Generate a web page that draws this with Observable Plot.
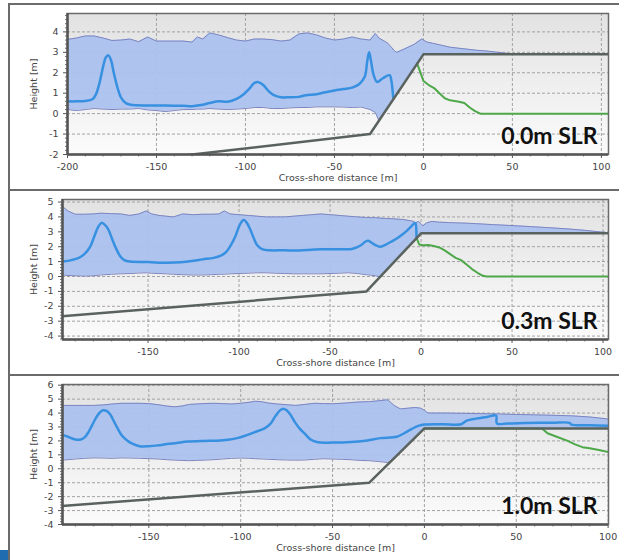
<!DOCTYPE html>
<html><head><meta charset="utf-8">
<script src="https://cdn.jsdelivr.net/npm/d3@7"></script>
<script src="https://cdn.jsdelivr.net/npm/@observablehq/plot@0.6"></script>
<style>
body{margin:0;background:#fff;}
#wrap{position:relative;width:619px;height:560px;overflow:hidden;background:#fff;}
.panel{position:absolute;left:8px;width:611px;border-top:2px solid #6b6b6b;border-left:2px solid #6b6b6b;}
.panel svg{display:block;}
#corner{position:absolute;left:0;top:550px;width:8px;height:10px;background:#1f6db0;}
</style></head>
<body>
<div id="wrap">
  <div class="panel" id="p0" style="top:3px;height:184px"></div>
  <div class="panel" id="p1" style="top:189px;height:183px"></div>
  <div class="panel" id="p2" style="top:374px;height:184px"></div>
  <div id="corner"></div>
</div>
<script>
// ---------- labels & axes ----------
const xLabel = "Cross-shore distance [m]";
const yLabel = "Height [m]";
const slrLabels = ["0.0m SLR", "0.3m SLR", "1.0m SLR"];
const xDomains = [[-200, 104], [-197, 103], [-197, 100.2]];
const yDomains = [[-2, 4.9], [-4.23, 5.17], [-4, 6.05]];
const xTicks = [
  [-200, -150, -100, -50, 0, 50, 100],
  [-150, -100, -50, 0, 50, 100],
  [-150, -100, -50, 0, 50, 100]
];
const yTicks = [
  [-2, -1, 0, 1, 2, 3, 4],
  [-4, -3, -2, -1, 0, 1, 2, 3, 4, 5],
  [-4, -3, -2, -1, 0, 1, 2, 3, 4, 5, 6]
];

// ---------- bed profile (same in all panels) ----------
const bed = [[-200, -2.7], [-30, -1], [0, 2.9], [105, 2.9]];

// ---------- panel 1: 0.0 m SLR ----------
// [x, lower envelope, upper envelope]
const band0 = [
  [-200,0.2,3.63],[-195,0.15,3.7],[-190,0.2,3.8],[-185,0.25,3.8],[-180,0.22,3.7],[-175,0.2,3.58],
  [-170,0.22,3.6],[-165,0.22,3.65],[-160,0.25,3.52],[-155,0.18,3.75],[-150,0.15,3.55],[-145,0.1,3.55],
  [-140,0.15,3.55],[-135,0.2,3.55],[-130,0.2,3.5],[-127,0.22,3.75],[-124,0.22,3.65],[-120,0.25,3.95],
  [-115,0.22,3.85],[-110,0.2,3.72],[-105,0.22,3.6],[-100,0.25,3.55],[-95,0.3,3.65],[-90,0.3,3.65],
  [-85,0.25,3.62],[-80,0.25,3.55],[-75,0.28,3.6],[-70,0.3,3.9],[-65,0.3,3.95],[-60,0.33,3.85],
  [-55,0.33,3.7],[-50,0.33,3.6],[-45,0.32,3.65],[-40,0.3,3.75],[-35,0.32,3.65],[-30,0.2,3.6],
  [-27,0.05,3.92],[-25,-0.35,3.7],[-20,0.3,3.45],[-16,0.82,3.05],[-15,0.95,3.0],[-11,1.47,3.15],
  [-5,2.25,3.4],[-1,2.77,3.65],[0,2.9,3.6],[2,2.9,3.5],[5,2.9,3.45],[10,2.9,3.35],[15,2.9,3.25],
  [20,2.9,3.2],[25,2.9,3.15],[30,2.9,3.1],[35,2.9,3.07],[40,2.9,3.02],[45,2.9,2.97],[50,2.9,2.92],
  [55,2.9,2.9],[104,2.9,2.9]
];
const mean0 = [
  [-200,0.6],[-195,0.6],[-190,0.62],[-186,0.7],[-184,0.95],[-182,1.5],[-180,2.3],[-178.5,2.75],
  [-177,2.85],[-175.5,2.6],[-174,2.0],[-172,1.3],[-170,0.8],[-167,0.5],[-163,0.42],[-155,0.4],
  [-145,0.4],[-135,0.38],[-130,0.36],[-125,0.42],[-120,0.52],[-115,0.6],[-110,0.58],[-105,0.72],
  [-101,0.95],[-98,1.2],[-95,1.5],[-93,1.55],[-90,1.4],[-87,1.1],[-84,0.9],[-80,0.8],[-75,0.8],
  [-70,0.82],[-66,0.9],[-60,0.95],[-55,1.05],[-50,1.13],[-45,1.2],[-40,1.27],[-36,1.45],[-33,1.8],
  [-31.5,2.6],[-30.5,3.0],[-29.5,2.6],[-28,1.9],[-26,1.55],[-23,1.72],[-19,1.88],[-18,1.6],[-17,0.8]
];
const green0 = [
  [-3.5,2.45],[0,1.6],[3,1.4],[6,1.25],[9,1.0],[12,0.75],[15,0.65],[20,0.58],[23,0.52],
  [26,0.3],[29,0.12],[32,0],[104,0]
];

// ---------- panel 2: 0.3 m SLR ----------
const band1 = [
  [-197,0.1,4.7],[-194,0.07,4.4],[-190,0.05,4.18],[-185,0.03,4.18],[-180,0.05,4.2],[-176,0.1,4.25],
  [-170,0.15,4.22],[-165,0.18,4.2],[-160,0.2,4.1],[-155,0.23,4.2],[-151,0.25,4.4],[-148,0.22,4.2],
  [-144,0.2,4.1],[-140,0.18,4.05],[-136,0.15,4.0],[-131,0.12,4.2],[-125,0.1,4.15],[-120,0.1,4.18],
  [-115,0.12,4.18],[-111,0.15,4.2],[-108,0.15,4.4],[-105,0.18,4.2],[-100,0.2,4.15],[-95,0.22,4.1],
  [-90,0.25,4.05],[-85,0.25,4.0],[-80,0.22,4.0],[-75,0.2,4.0],[-70,0.18,4.05],[-65,0.18,4.1],
  [-60,0.18,4.15],[-55,0.18,4.2],[-50,0.2,4.15],[-45,0.22,4.1],[-40,0.25,4.05],[-35,0.2,4.0],
  [-30,0.12,3.96],[-27,0.08,3.95],[-25,0.05,3.95],[-22.5,-0.03,3.92],[-20,0.3,3.9],[-15,0.95,3.87],
  [-10,1.6,3.83],[-6,2.12,3.75],[-4,2.38,3.7],[-3,2.51,3.6],[-1.5,2.7,3.7],[0,2.9,3.55],[1,2.9,3.4],
  [3,2.9,3.6],[6,2.9,3.7],[10,2.9,3.65],[15,2.9,3.62],[20,2.9,3.6],[25,2.9,3.58],[30,2.9,3.55],
  [40,2.9,3.48],[50,2.9,3.42],[60,2.9,3.35],[70,2.9,3.28],[80,2.9,3.2],[90,2.9,3.1],[103,2.9,2.93]
];
const mean1 = [
  [-197,1.0],[-192,1.1],[-188,1.25],[-185,1.5],[-182,1.95],[-179.5,2.7],[-177.5,3.3],[-175.5,3.6],
  [-174,3.5],[-172,3.2],[-170,2.6],[-168,2.0],[-165.5,1.4],[-163,1.1],[-160,1.0],[-150,0.97],
  [-140,0.92],[-132,0.95],[-125,1.05],[-120,1.15],[-114,1.25],[-110,1.4],[-107,1.65],[-104.5,2.1],
  [-102,2.7],[-99.5,3.5],[-97.5,3.8],[-96,3.65],[-94,3.2],[-92,2.6],[-90,2.1],[-87,1.82],[-83,1.76],
  [-75,1.76],[-67,1.75],[-60,1.8],[-55,1.83],[-45,1.83],[-38,1.85],[-33,2.1],[-30.5,2.35],[-29,2.4],
  [-27,2.25],[-25,2.1],[-22.5,2.0],[-20,2.1],[-17,2.3],[-14,2.5],[-11,2.75],[-8,3.05],[-5.5,3.35],
  [-3.5,3.6],[-3,3.55],[-2.5,2.65]
];
const green1 = [
  [-2.5,2.6],[-1,2.15],[1,2.1],[4,2.12],[7,2.05],[10,1.95],[13,1.75],[16,1.5],[19,1.25],[22,1.1],
  [25,0.8],[28,0.5],[31,0.25],[34,0.05],[36,0],[103,0]
];

// ---------- panel 3: 1.0 m SLR ----------
const band2 = [
  [-197,0.62,4.55],[-190,0.7,4.55],[-185,0.75,4.55],[-180,0.78,4.55],[-175,0.77,4.58],[-170,0.75,4.65],
  [-165,0.78,4.7],[-160,0.77,4.7],[-155,0.75,4.7],[-150,0.73,4.68],[-145,0.7,4.6],[-140,0.65,4.5],
  [-136,0.62,4.45],[-132,0.6,4.5],[-128,0.58,4.62],[-124,0.6,4.65],[-120,0.62,4.68],[-115,0.65,4.7],
  [-110,0.7,4.68],[-105,0.75,4.65],[-100,0.77,4.7],[-95,0.75,4.78],[-92,0.72,4.85],[-88,0.7,4.8],
  [-85,0.68,4.72],[-80,0.65,4.65],[-75,0.63,4.6],[-70,0.62,4.55],[-65,0.63,4.62],[-60,0.68,4.7],
  [-55,0.72,4.68],[-50,0.7,4.67],[-45,0.68,4.7],[-40,0.65,4.75],[-35,0.6,4.8],[-30,0.58,4.82],
  [-25,0.52,4.88],[-20,0.45,4.95],[-16,0.82,4.5],[-13,1.21,4.3],[-9,1.73,4.35],[-5,2.25,4.4],
  [-2,2.64,4.35],[0,2.9,4.2],[2,2.9,4.0],[10,2.9,4.0],[20,2.9,3.98],[30,2.9,3.96],[40,2.9,3.94],
  [50,2.9,3.9],[60,2.9,3.87],[70,2.9,3.84],[80,2.9,3.8],[90,2.9,3.72],[100.2,2.9,3.57]
];
const mean2 = [
  [-197,2.43],[-194,2.3],[-190,2.1],[-187,2.1],[-185,2.25],[-183,2.6],[-181,3.1],[-179,3.6],[-177,4.0],
  [-175,4.2],[-173,4.15],[-171,3.9],[-169,3.4],[-167,2.9],[-165,2.45],[-162,2.05],[-159,1.8],
  [-155,1.62],[-150,1.62],[-145,1.68],[-140,1.78],[-135,1.85],[-129,1.95],[-120,2.0],[-113,2.02],
  [-107,2.08],[-102,2.2],[-98,2.35],[-93,2.6],[-87,2.9],[-84,3.2],[-81,3.8],[-78.5,4.2],[-76.5,4.3],
  [-75,4.2],[-73,3.9],[-70.5,3.35],[-68,2.9],[-65,2.5],[-62,2.1],[-58,1.9],[-50,1.88],[-40,1.92],
  [-32,2.02],[-24,2.2],[-15,2.3],[-11,2.55],[-7,2.85],[-3,3.1],[0,3.18],[10,3.2],[20,3.2],[23,3.45],
  [28,3.6],[34,3.72],[39,3.82],[39.5,3.25],[45,3.25],[55,3.28],[63,3.3],[70,3.3],[79,3.3],[80,3.17],
  [90,3.12],[100.2,3.08]
];
const green2 = [
  [0,2.9],[64,2.9],[67,2.55],[72,2.3],[78,2.0],[82,1.75],[86,1.55],[90,1.48],[95,1.35],[100.2,1.2]
];

const bands = [band0, band1, band2];
const means = [mean0, mean1, mean2];
const greens = [green0, green1, green2];

// ---------- styling ----------
const dims = [
  {height: 184, marginLeft: 57, marginBottom: 35, yLabelOffset: 37},
  {height: 183, marginLeft: 52, marginBottom: 35, yLabelOffset: 32},
  {height: 184, marginLeft: 52, marginBottom: 36, yLabelOffset: 32}
];
const ns = "http://www.w3.org/2000/svg";
const X = d => d[0], Y = d => d[1];
const fmt = v => String(v);

for (let i = 0; i < 3; i++) {
  const [x0, x1] = xDomains[i];
  const [y0, y1] = yDomains[i];
  const minorX = d3.range(Math.ceil(x0 / 10) * 10, x1 + 1e-6, 10).filter(v => !xTicks[i].includes(v));
  const minorY = d3.range(Math.ceil(y0 * 5), Math.floor(y1 * 5) + 1).map(k => k / 5).filter(v => Math.abs(v - Math.round(v)) > 1e-6);
  const d = dims[i];
  const svg = Plot.plot({
    width: 609,
    height: d.height,
    marginLeft: d.marginLeft,
    marginRight: 11,
    marginTop: 8,
    marginBottom: d.marginBottom,
    style: {fontFamily: "DejaVu Sans", fontSize: "9.5px", color: "#444", background: "transparent", overflow: "visible"},
    x: {domain: xDomains[i], axis: null},
    y: {domain: yDomains[i], axis: null},
    marks: [
      Plot.frame({fill: `url(#bg${i})`, stroke: null}),
      Plot.gridX({ticks: xTicks[i], stroke: "#9a9a9a", strokeOpacity: 0.9, strokeDasharray: "3,2"}),
      Plot.gridY({ticks: yTicks[i], stroke: "#9a9a9a", strokeOpacity: 0.9, strokeDasharray: "3,2"}),
      Plot.areaY(bands[i], {x: X, y1: d => d[1], y2: d => d[2], fill: "#abc2ef", fillOpacity: 0.95, clip: true}),
      Plot.line(bands[i], {x: X, y: d => d[2], stroke: "#7d85c0", strokeWidth: 1, clip: true}),
      Plot.line(bands[i], {x: X, y: d => d[1], stroke: "#7d85c0", strokeWidth: 1, clip: true}),
      Plot.line(greens[i], {x: X, y: Y, stroke: "#4ea84a", strokeWidth: 2, clip: true}),
      Plot.line(means[i], {x: X, y: Y, stroke: "#3790e0", strokeWidth: 2.5, curve: "catmull-rom", clip: true}),
      Plot.line(bed, {x: X, y: Y, stroke: "#5a625e", strokeWidth: 2.5, clip: true}),
      Plot.axisX({ticks: xTicks[i], tickFormat: fmt, tickSize: 4, tickPadding: 4.5, stroke: "#555", label: xLabel, labelAnchor: "center", labelOffset: 26.5, labelArrow: "none"}),
      Plot.axisX({ticks: minorX, tickSize: 2.5, text: null, label: null, stroke: "#777"}),
      Plot.axisY({ticks: yTicks[i], tickFormat: fmt, tickSize: 4, tickPadding: 5, stroke: "#555", label: yLabel, labelAnchor: "center", labelOffset: d.yLabelOffset, labelArrow: "none"}),
      Plot.axisY({ticks: minorY, tickSize: 2, text: null, label: null, stroke: "#777"}),
      Plot.frame({stroke: "#6a6a6a", strokeWidth: 1.5}),
      Plot.ruleX([x0], {stroke: "#555", strokeWidth: 2.5}),
      Plot.ruleY([y0], {stroke: "#555", strokeWidth: 2.5}),
      Plot.text([slrLabels[i]], {frameAnchor: "bottom-right", dx: -11, dy: -11, lineAnchor: "bottom", text: d => d, fontSize: 23, fontWeight: "bold", fontFamily: "Lato", fill: "#111"})
    ]
  });
  const defs = document.createElementNS(ns, "defs");
  defs.innerHTML = `<linearGradient id="bg${i}" x1="0" y1="0" x2="0" y2="1"><stop offset="0" stop-color="#e2e2e2"/><stop offset="1" stop-color="#fbfbfb"/></linearGradient>`;
  svg.insertBefore(defs, svg.firstChild);
  document.getElementById("p" + i).appendChild(svg);
}
</script>
</body></html>
